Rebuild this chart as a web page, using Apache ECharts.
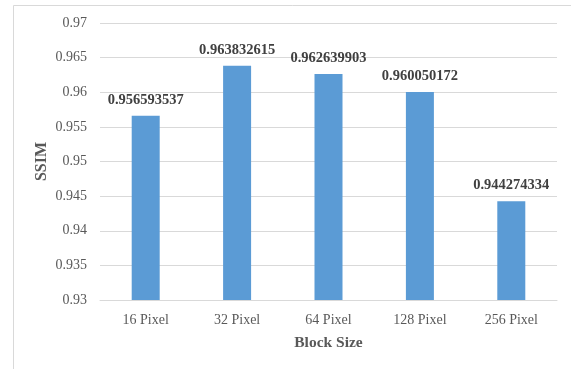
<!DOCTYPE html>
<html>
<head>
<meta charset="utf-8">
<script src="https://cdn.jsdelivr.net/npm/echarts@6/dist/echarts.min.js"></script>
<style>
  html, body { margin: 0; padding: 0; background: #fff; }
  #chart { width: 571px; height: 369px; }
</style>
</head>
<body>
<div id="chart"></div>
<script>
// SSIM for each block size
const blockSizes = ['16 Pixel', '32 Pixel', '64 Pixel', '128 Pixel', '256 Pixel'];
const ssimValues = [0.956593537, 0.963832615, 0.962639903, 0.960050172, 0.944274334];

const serif = '"Liberation Serif", "Times New Roman", serif';

const chart = echarts.init(document.getElementById('chart'), null, { renderer: 'canvas' });

chart.setOption({
  animation: false,
  backgroundColor: '#ffffff',
  graphic: [{
    type: 'rect',
    shape: { x: 13.5, y: 5.5, width: 600, height: 400 },
    style: { fill: 'none', stroke: '#d9d9d9', lineWidth: 1 },
    silent: true,
    z: -10
  }],
  grid: { left: 100, right: 14, top: 23, bottom: 69 },
  xAxis: {
    type: 'category',
    data: blockSizes,
    name: 'Block Size',
    nameLocation: 'middle',
    nameGap: 35,
    nameMoveOverlap: false,
    nameTextStyle: { fontFamily: serif, fontSize: 15.5, fontWeight: 'bold', color: '#595959' },
    axisLine: { lineStyle: { color: '#d9d9d9', width: 1 } },
    axisTick: { show: false },
    axisLabel: { fontFamily: serif, fontSize: 14, color: '#595959', margin: 13 }
  },
  yAxis: {
    type: 'value',
    min: 0.93,
    max: 0.97,
    interval: 0.005,
    name: 'SSIM',
    nameLocation: 'middle',
    nameGap: 50,
    nameRotate: 90,
    nameMoveOverlap: false,
    nameTextStyle: { fontFamily: serif, fontSize: 16, fontWeight: 'bold', color: '#595959' },
    axisLine: { show: false },
    axisTick: { show: false },
    axisLabel: {
      fontFamily: serif, fontSize: 14, color: '#595959', margin: 13,
      formatter: v => String(parseFloat(v.toFixed(3)))
    },
    splitLine: { lineStyle: { color: '#d9d9d9', width: 1 } }
  },
  series: [{
    type: 'bar',
    data: ssimValues,
    barWidth: 28,
    itemStyle: { color: '#5b9bd5' },
    label: {
      show: true,
      position: 'top',
      distance: 8,
      fontFamily: serif,
      fontSize: 14.5,
      fontWeight: 'bold',
      color: '#404040',
      formatter: p => String(p.value)
    }
  }]
});
</script>
</body>
</html>
